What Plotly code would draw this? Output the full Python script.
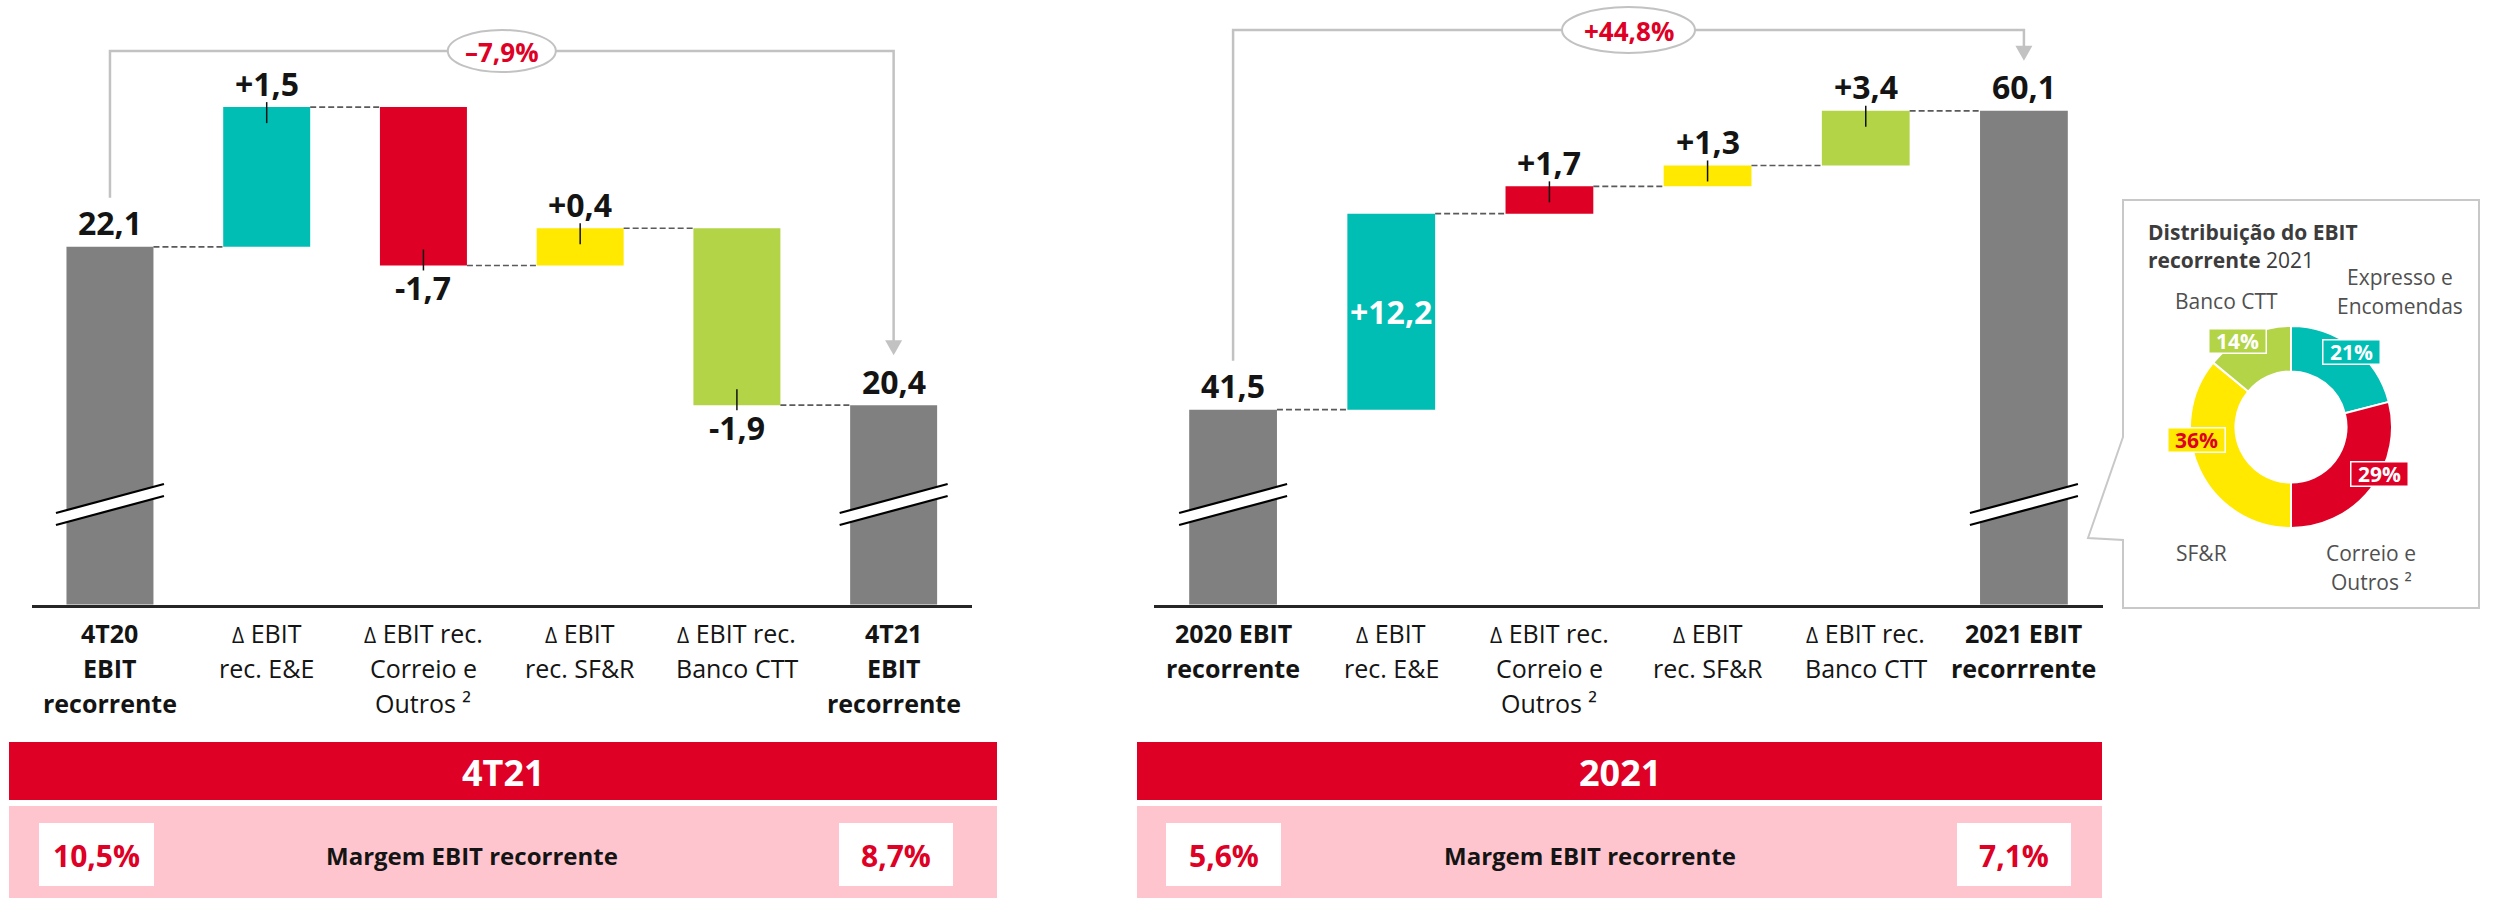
import plotly.graph_objects as go

W, H = 2494, 898

# ---------------- data ----------------
left_categories = ["4T20\nEBIT\nrecorrente", "Δ EBIT\nrec. E&E", "Δ EBIT rec.\nCorreio e\nOutros ²",
                   "Δ EBIT\nrec. SF&R", "Δ EBIT rec.\nBanco CTT", "4T21\nEBIT\nrecorrente"]
left_measures = ["absolute", "relative", "relative", "relative", "relative", "total"]
left_values = [22.1, 1.5, -1.7, 0.4, -1.9, 20.4]
left_change_pct = -7.9
left_period = "4T21"
left_margins = [10.5, 8.7]

right_categories = ["2020 EBIT\nrecorrente", "Δ EBIT\nrec. E&E", "Δ EBIT rec.\nCorreio e\nOutros ²",
                    "Δ EBIT\nrec. SF&R", "Δ EBIT rec.\nBanco CTT", "2021 EBIT\nrecorrrente"]
right_measures = ["absolute", "relative", "relative", "relative", "relative", "total"]
right_values = [41.5, 12.2, 1.7, 1.3, 3.4, 60.1]
right_change_pct = 44.8
right_period = "2021"
right_margins = [5.6, 7.1]

margin_label = "Margem EBIT recorrente"

donut_title = ["Distribuição do EBIT", "recorrente", "2021"]
donut_labels = ["Expresso e Encomendas", "Correio e Outros ²", "SF&R", "Banco CTT"]
donut_values = [21, 29, 36, 14]

# ---------------- style ----------------
GRAY = "#808080"
TEAL = "#00BEB3"
RED = "#DE0025"
YELLOW = "#FFE900"
GREEN = "#B3D447"
PINK = "#FFC5CF"
DARK = "#141414"
FONT = "Open Sans"
bar_colors = [GRAY, TEAL, RED, YELLOW, GREEN, GRAY]
donut_colors = [TEAL, RED, YELLOW, GREEN]
BAR_W = 0.555
AX_BOTTOM = 604.5


def px(x):
    return x / W


def py(y):
    return 1 - y / H


def fmt(v, sign=False, dash="-"):
    s = f"{abs(v):.1f}".replace(".", ",")
    if v < 0:
        return dash + s
    return ("+" + s) if sign else s


charts = [
    dict(cats=left_categories, measures=left_measures, values=left_values, change=left_change_pct,
         period=left_period, margins=left_margins, x_px=(31.6, 972.0), yrange=(18.26, 24.75),
         bracket_px=51, ell=(108, 42), ax="", band=(9, 997), boxes=((39, 154), (839, 953)),
         mtext_x=472),
    dict(cats=right_categories, measures=right_measures, values=right_values, change=right_change_pct,
         period=right_period, margins=right_margins, x_px=(1154.0, 2103.0), yrange=(29.37, 67.0),
         bracket_px=30, ell=(133, 46), ax="2", band=(1137, 2102), boxes=((1166, 1281), (1957, 2071)),
         mtext_x=1590),
]

fig = go.Figure()
shapes = []
annotations = []
layout_axes = {}

for c in charts:
    ax = c["ax"]
    xa, ya = "x" + ax, "y" + ax
    r0, r1 = c["yrange"]
    x0p, x1p = c["x_px"]
    unit = (x1p - x0p) / 6.0

    def vpix(v, r0=r0, r1=r1):
        return AX_BOTTOM - (v - r0) / (r1 - r0) * AX_BOTTOM

    def cpix(i, x0p=x0p, unit=unit):
        return x0p + (i + 0.5) * unit

    vals, meas = c["values"], c["measures"]
    idx = list(range(len(vals)))
    bases, ends = [], []
    cum = 0.0
    for m, v in zip(meas, vals):
        if m == "relative":
            bases.append(cum)
            cum = cum + v
        else:
            bases.append(0.0)
            cum = v
        ends.append(cum)

    fig.add_trace(go.Bar(x=idx, y=vals, base=bases, width=BAR_W,
                         marker=dict(color=bar_colors, line=dict(width=0)),
                         xaxis=xa, yaxis=ya, showlegend=False, hoverinfo="skip"))

    # connectors
    cx, cy = [], []
    for i in range(len(vals) - 1):
        cx += [i + BAR_W / 2, i + 1 - BAR_W / 2, None]
        cy += [ends[i], ends[i], None]
    fig.add_trace(go.Scatter(x=cx, y=cy, mode="lines", xaxis=xa, yaxis=ya,
                             line=dict(color="#5a5a5a", width=1.6, dash="6px,3px"),
                             showlegend=False, hoverinfo="skip"))

    # value labels + ticks
    for i, (m, v) in enumerate(zip(meas, vals)):
        color = DARK
        if m != "relative":
            text, anchor, shift = fmt(v), v, 24
        else:
            text = fmt(v, sign=True)
            if abs(v) >= 0.2 * bases[i]:
                anchor, shift, color = bases[i] + v / 2, 0, "white"
            elif v > 0:
                anchor, shift = ends[i], 24
                shapes.append(dict(type="line", xref=xa, yref=ya, ysizemode="pixel", yanchor=anchor,
                                   x0=i, x1=i, y0=-16, y1=5, line=dict(color="#111", width=1.5)))
            else:
                anchor, shift = ends[i], -22
                shapes.append(dict(type="line", xref=xa, yref=ya, ysizemode="pixel", yanchor=anchor,
                                   x0=i, x1=i, y0=16, y1=-5, line=dict(color="#111", width=1.5)))
        annotations.append(dict(x=i, y=anchor, xref=xa, yref=ya, yshift=shift, showarrow=False,
                                text=f"<b>{text}</b>", font=dict(size=32, color=color, family=FONT),
                                xanchor="center", yanchor="middle"))

    # break marks on total bars
    hw = 54 / unit
    for i, m in enumerate(meas):
        if m == "relative":
            continue
        shapes.append(dict(type="path", xref=xa, yref="paper", layer="above",
                           path=f"M {i-hw},{py(513)} L {i+hw},{py(484)} L {i+hw},{py(496)} L {i-hw},{py(525)} Z",
                           fillcolor="white", line=dict(width=0)))
        for (ya0, ya1) in ((513, 484), (525, 496)):
            shapes.append(dict(type="line", xref=xa, yref="paper", layer="above",
                               x0=i - hw, x1=i + hw, y0=py(ya0), y1=py(ya1),
                               line=dict(color="#000", width=2.2)))

    # category labels
    for i, (lab, m) in enumerate(zip(c["cats"], meas)):
        for k, line in enumerate(lab.split("\n")):
            t = line.replace("Δ ", '<span style="font-size:21px">Δ</span> ')
            if m != "relative":
                t = f"<b>{t}</b>"
            annotations.append(dict(x=i, y=py(633 + 35 * k), xref=xa, yref="paper", showarrow=False,
                                    text=t, font=dict(size=25, color=DARK, family=FONT),
                                    xanchor="center", yanchor="middle"))

    # bracket with arrow
    n = len(vals) - 1
    y_start = vpix(vals[0]) - 49
    tip = vpix(vals[n]) - 50
    bpx = c["bracket_px"]
    shapes.append(dict(type="path", xref=xa, yref="paper",
                       path=f"M 0,{py(y_start)} L 0,{py(bpx)} L {n},{py(bpx)} L {n},{py(tip - 14)}",
                       line=dict(color="#C2C2C2", width=2.5)))
    ah = 8.5 / unit
    shapes.append(dict(type="path", xref=xa, yref="paper",
                       path=f"M {n-ah},{py(tip - 15)} L {n+ah},{py(tip - 15)} L {n},{py(tip)} Z",
                       fillcolor="#C2C2C2", line=dict(width=0)))
    ecx = cpix(n / 2)
    ew, eh = c["ell"]
    shapes.append(dict(type="circle", xref="paper", yref="paper",
                       x0=px(ecx - ew / 2), x1=px(ecx + ew / 2), y0=py(bpx + eh / 2), y1=py(bpx - eh / 2),
                       fillcolor="white", line=dict(color="#C2C2C2", width=2)))
    pct = c["change"]
    pct_txt = ("+" if pct > 0 else "–") + f"{abs(pct):.1f}".replace(".", ",") + "%"
    annotations.append(dict(x=px(ecx), y=py(bpx + 1), xref="paper", yref="paper", showarrow=False,
                            text=f"<b>{pct_txt}</b>", font=dict(size=26, color=RED, family=FONT),
                            xanchor="center", yanchor="middle"))

    # bands
    b0, b1 = c["band"]
    shapes.append(dict(type="rect", xref="paper", yref="paper", x0=px(b0), x1=px(b1),
                       y0=py(800), y1=py(742), fillcolor=RED, line=dict(width=0)))
    shapes.append(dict(type="rect", xref="paper", yref="paper", x0=px(b0), x1=px(b1),
                       y0=py(898), y1=py(806), fillcolor=PINK, line=dict(width=0)))
    annotations.append(dict(x=px((b0 + b1) / 2), y=py(772), xref="paper", yref="paper", showarrow=False,
                            text=f"<b>{c['period']}</b>", font=dict(size=36, color="white", family=FONT),
                            xanchor="center", yanchor="middle"))
    for (bx0, bx1), mv in zip(c["boxes"], c["margins"]):
        shapes.append(dict(type="rect", xref="paper", yref="paper", x0=px(bx0), x1=px(bx1),
                           y0=py(886), y1=py(823), fillcolor="white", line=dict(width=0)))
        annotations.append(dict(x=px((bx0 + bx1) / 2), y=py(855), xref="paper", yref="paper",
                                showarrow=False, text=f"<b>{fmt(mv)}%</b>",
                                font=dict(size=30, color=RED, family=FONT),
                                xanchor="center", yanchor="middle"))
    annotations.append(dict(x=px(c["mtext_x"]), y=py(855), xref="paper", yref="paper", showarrow=False,
                            text=f"<b>{margin_label}</b>", font=dict(size=24, color=DARK, family=FONT),
                            xanchor="center", yanchor="middle"))

    layout_axes["xaxis" + ax] = dict(domain=[px(x0p), px(x1p)], range=[-0.5, len(vals) - 0.5],
                                     anchor=ya, showgrid=False, zeroline=False, showticklabels=False,
                                     ticks="", showline=True, linecolor="#262626", linewidth=2.5,
                                     fixedrange=True)
    layout_axes["yaxis" + ax] = dict(domain=[py(AX_BOTTOM), 1], range=[r0, r1], anchor=xa,
                                     visible=False, fixedrange=True)

# ---------------- donut inset ----------------
shapes.append(dict(type="path", xref="paper", yref="paper",
                   path=(f"M {px(2123)},{py(437)} L {px(2088)},{py(538)} L {px(2123)},{py(540)} "
                         f"L {px(2123)},{py(608)} L {px(2479)},{py(608)} L {px(2479)},{py(200)} "
                         f"L {px(2123)},{py(200)} Z"),
                   fillcolor="rgba(255,255,255,0)", line=dict(color="#C8C8C8", width=2)))

DCX, DCY, DR = 2291, 427, 101
fig.add_trace(go.Pie(values=donut_values, labels=donut_labels, hole=0.55, sort=False,
                     direction="clockwise", rotation=0, textinfo="none", hoverinfo="skip",
                     marker=dict(colors=donut_colors, line=dict(color="white", width=2)),
                     domain=dict(x=[px(DCX - DR), px(DCX + DR)], y=[py(DCY + DR), py(DCY - DR)]),
                     showlegend=False))

pct_box_pos = [(2351, 352), (2379, 474), (2196, 440), (2237, 341)]
pct_font_colors = ["white", "white", RED, "white"]
for (bx, byy), v, col, fc in zip(pct_box_pos, donut_values, donut_colors, pct_font_colors):
    annotations.append(dict(x=px(bx), y=py(byy), xref="paper", yref="paper", showarrow=False,
                            text=f"<b>{v}%</b>", font=dict(size=21, color=fc, family=FONT),
                            bgcolor=col, bordercolor="white", borderwidth=1.5, borderpad=0,
                            width=56, height=23, xanchor="center", yanchor="middle"))

TITLE_C = "#3C3C3C"
annotations.append(dict(x=px(2146), y=py(232), xref="paper", yref="paper", showarrow=False,
                        text=f"<b>{donut_title[0]}</b>", font=dict(size=21, color=TITLE_C, family=FONT),
                        xanchor="left", yanchor="middle"))
annotations.append(dict(x=px(2146), y=py(260), xref="paper", yref="paper", showarrow=False,
                        text=f"<b>{donut_title[1]}</b> {donut_title[2]}",
                        font=dict(size=21, color=TITLE_C, family=FONT), xanchor="left", yanchor="middle"))

LBL_C = "#505050"
donut_label_lines = [
    (["Expresso e", "Encomendas"], 2400, 277),
    (["Correio e", "Outros ²"], 2371, 553),
    (["SF&R"], 2201, 553),
    (["Banco CTT"], 2226, 301),
]
for lab, (lines, lx, ly) in zip(donut_labels, donut_label_lines):
    for k, line in enumerate(lines):
        annotations.append(dict(x=px(lx), y=py(ly + 29 * k), xref="paper", yref="paper", showarrow=False,
                                text=line, font=dict(size=21, color=LBL_C, family=FONT),
                                xanchor="center", yanchor="middle"))

fig.update_layout(width=W, height=H, margin=dict(l=0, r=0, t=0, b=0, pad=0),
                  paper_bgcolor="white", plot_bgcolor="rgba(0,0,0,0)",
                  font=dict(family=FONT, color=DARK), barmode="overlay",
                  shapes=shapes, annotations=annotations, **layout_axes)

fig.write_html("out.html", config={"displayModeBar": False},
               post_script="document.body.style.margin='0px';")
